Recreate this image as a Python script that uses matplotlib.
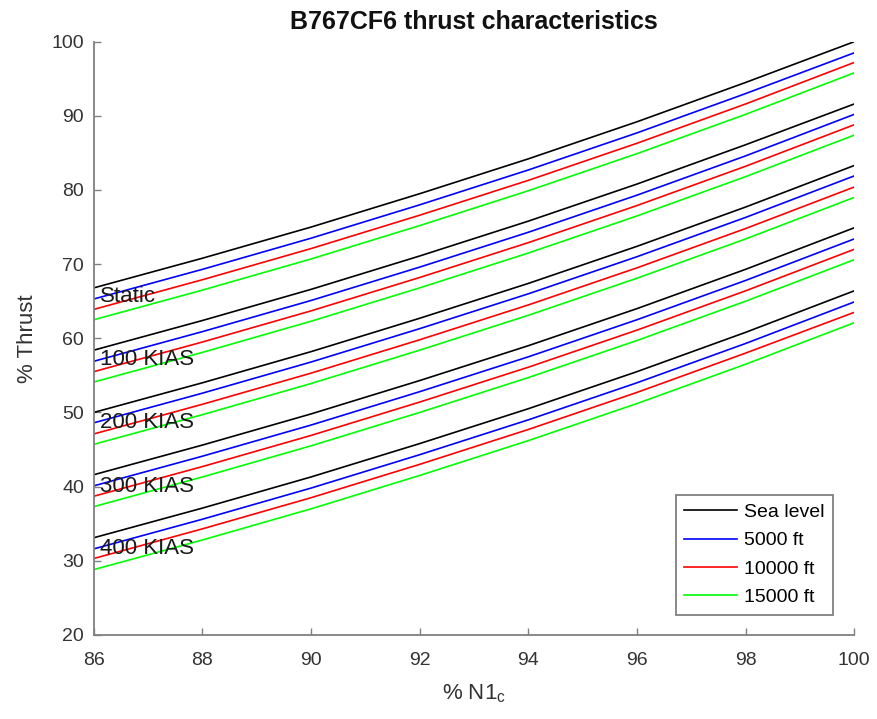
import matplotlib
matplotlib.use("Agg")
import matplotlib.pyplot as plt

plt.rcParams['font.family'] = ['Liberation Sans', 'DejaVu Sans']
plt.rcParams['mathtext.default'] = 'regular'

# % N1c sampled every 2 %
n1 = [86, 88, 90, 92, 94, 96, 98, 100]

# % thrust, one list per altitude for each airspeed
static_sl = [66.8, 70.8, 75.0, 79.5, 84.2, 89.2, 94.5, 100.0]
static_5k = [65.3, 69.3, 73.5, 78.0, 82.7, 87.7, 93.0, 98.5]
static_10k = [63.9, 67.9, 72.1, 76.6, 81.3, 86.3, 91.6, 97.2]
static_15k = [62.5, 66.5, 70.7, 75.2, 79.9, 84.9, 90.2, 95.8]

kias100_sl = [58.4, 62.4, 66.6, 71.1, 75.8, 80.8, 86.1, 91.6]
kias100_5k = [56.9, 60.9, 65.1, 69.6, 74.3, 79.3, 84.6, 90.2]
kias100_10k = [55.5, 59.5, 63.7, 68.2, 72.9, 77.9, 83.2, 88.8]
kias100_15k = [54.1, 58.1, 62.3, 66.8, 71.5, 76.5, 81.8, 87.4]

kias200_sl = [50.0, 54.0, 58.2, 62.7, 67.4, 72.4, 77.7, 83.3]
kias200_5k = [48.6, 52.6, 56.8, 61.3, 66.0, 71.0, 76.3, 81.9]
kias200_10k = [47.1, 51.1, 55.3, 59.8, 64.5, 69.5, 74.8, 80.4]
kias200_15k = [45.7, 49.7, 53.9, 58.4, 63.1, 68.1, 73.4, 79.0]

kias300_sl = [41.6, 45.6, 49.8, 54.3, 59.0, 64.0, 69.3, 74.9]
kias300_5k = [40.1, 44.1, 48.3, 52.8, 57.5, 62.5, 67.8, 73.4]
kias300_10k = [38.7, 42.7, 46.9, 51.4, 56.1, 61.1, 66.4, 72.0]
kias300_15k = [37.3, 41.3, 45.5, 50.0, 54.7, 59.7, 65.0, 70.6]

kias400_sl = [33.1, 37.1, 41.3, 45.8, 50.5, 55.5, 60.8, 66.4]
kias400_5k = [31.6, 35.6, 39.8, 44.3, 49.0, 54.0, 59.3, 64.9]
kias400_10k = [30.3, 34.3, 38.5, 43.0, 47.7, 52.7, 58.0, 63.5]
kias400_15k = [28.8, 32.8, 37.0, 41.5, 46.2, 51.2, 56.5, 62.1]

alt_names = ['Sea level', '5000 ft', '10000 ft', '15000 ft']
speed_names = ['Static', '100 KIAS', '200 KIAS', '300 KIAS', '400 KIAS']
label_y = [65.6, 57.1, 48.6, 40.0, 31.6]

groups = [
    [static_sl, static_5k, static_10k, static_15k],
    [kias100_sl, kias100_5k, kias100_10k, kias100_15k],
    [kias200_sl, kias200_5k, kias200_10k, kias200_15k],
    [kias300_sl, kias300_5k, kias300_10k, kias300_15k],
    [kias400_sl, kias400_5k, kias400_10k, kias400_15k],
]
colors = ['#000000', '#0000ff', '#ff0000', '#00ff00']

fig = plt.figure(figsize=(8.77, 7.19), dpi=100)
ax = fig.add_axes([0.107, 0.117, 0.867, 0.825])

for g, grp in enumerate(groups):
    for a, ys in enumerate(grp):
        ax.plot(n1, ys, color=colors[a], lw=1.2,
                label=alt_names[a] if g == 0 else None)
    ax.text(86.12, label_y[g], speed_names[g], fontsize=16, color='#1a1a1a',
            va='center', ha='left')

ax.set_xlim(86, 100)
ax.set_ylim(20, 100)
ax.set_xticks(range(86, 101, 2))
ax.set_yticks(range(20, 101, 10))

gray = '#808080'
for s in ['top', 'right']:
    ax.spines[s].set_visible(False)
for s in ['left', 'bottom']:
    ax.spines[s].set_color(gray)
    ax.spines[s].set_linewidth(1.3)
ax.tick_params(direction='in', length=5, width=1.0, color=gray,
               labelsize=14, labelcolor='#333333')
ax.tick_params(axis='x', pad=12)
ax.tick_params(axis='y', pad=7)

ax.set_title('B767CF6 thrust characteristics', fontsize=18, fontweight='bold',
             color='#111111', pad=9)
ax.set_xlabel('% N1$_c$', fontsize=16, color='#333333', labelpad=10)
ax.set_ylabel('% Thrust', fontsize=16, color='#333333', labelpad=10)

leg = ax.legend(loc='lower right', bbox_to_anchor=(0.972, 0.034), fontsize=14,
                frameon=True, fancybox=False, framealpha=1, edgecolor=gray,
                handlelength=2.7, handletextpad=0.35, borderpad=0.45,
                labelspacing=0.55, borderaxespad=0)
leg.get_frame().set_linewidth(1.3)

fig.savefig('out.png', dpi=100)
